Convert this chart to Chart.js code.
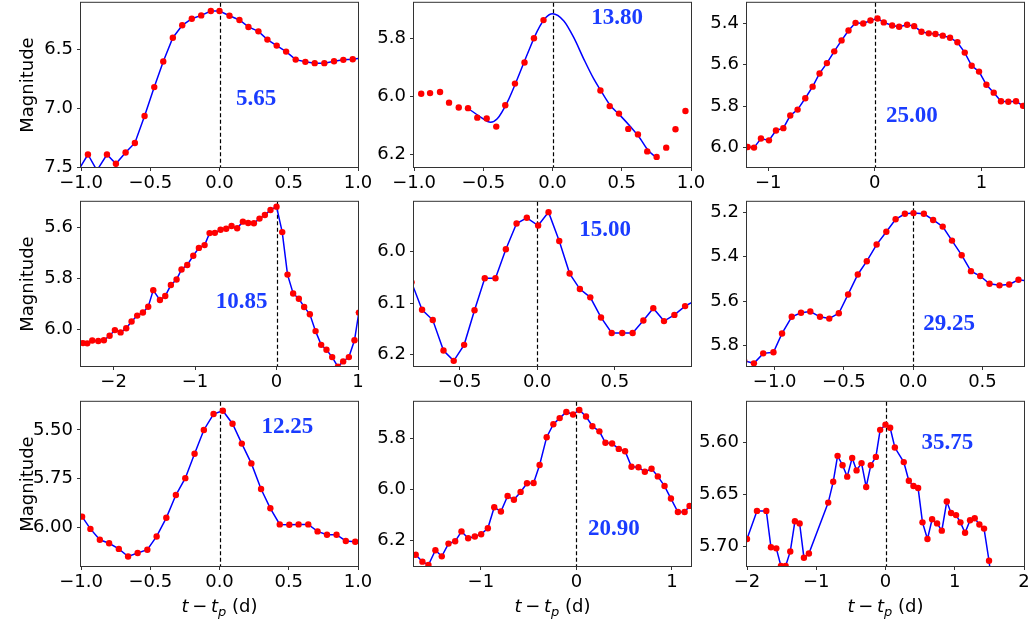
<!DOCTYPE html>
<html>
<head>
<meta charset="utf-8">
<script src="https://cdn.jsdelivr.net/npm/chart.js@4.4.0/dist/chart.umd.min.js"></script>
<style>
  html, body { margin: 0; padding: 0; background: #fff; }
  body { width: 1031px; height: 624px; position: relative; overflow: hidden; font-family: "DejaVu Sans", sans-serif; }
  canvas { position: absolute; }
  .ylab { position: absolute; font-size: 18px; line-height: 18px; color: #000; white-space: nowrap; transform: translate(-50%, -50%) rotate(-90deg); }
  .xlab { position: absolute; font-size: 18px; color: #000; white-space: nowrap; transform: translate(-50%, -50%); }
  .xlab i { font-style: italic; }
  .xlab sub { font-size: 13px; vertical-align: -4px; font-style: italic; }
</style>
</head>
<body>
<script>
// ---------------- data ----------------
const p1T = [-1.017, -0.950, -0.885, -0.8125, -0.748, -0.678, -0.611, -0.541, -0.471, -0.406, -0.337, -0.269, -0.200, -0.132, -0.0625, 0.0, 0.072, 0.144, 0.209, 0.281, 0.346, 0.413, 0.481, 0.550, 0.620, 0.6875, 0.757, 0.827, 0.894, 0.962, 1.03];
const p1M = [7.52, 7.390, 7.525, 7.390, 7.469, 7.373, 7.292, 7.063, 6.818, 6.601, 6.399, 6.294, 6.238, 6.210, 6.173, 6.173, 6.213, 6.249, 6.308, 6.345, 6.415, 6.466, 6.517, 6.585, 6.604, 6.615, 6.615, 6.599, 6.587, 6.582, 6.572];

const p2T = [-0.948, -0.884, -0.812, -0.747, -0.677, -0.610, -0.543, -0.475, -0.406, -0.341, -0.271, -0.202, -0.134, -0.065, 0.346, 0.413, 0.480, 0.547, 0.617, 0.684, 0.752, 0.821, 0.888, 0.960];
const p2M = [5.991, 5.989, 5.985, 6.022, 6.039, 6.041, 6.074, 6.077, 6.105, 6.031, 5.956, 5.883, 5.799, 5.736, 5.980, 6.034, 6.060, 6.113, 6.132, 6.191, 6.210, 6.178, 6.114, 6.051];
const p2FitT = [-0.603, -0.519, -0.447, -0.399, -0.327, -0.254, -0.182, -0.110, -0.050, 0.0, 0.082, 0.154, 0.226, 0.298, 0.346, 0.418, 0.490, 0.562, 0.634, 0.682, 0.730, 0.749];
const p2FitM = [6.044, 6.072, 6.090, 6.078, 6.021, 5.940, 5.854, 5.774, 5.728, 5.714, 5.739, 5.797, 5.871, 5.940, 5.978, 6.032, 6.067, 6.105, 6.147, 6.182, 6.205, 6.210];

const p3T = [-1.194, -1.134, -1.069, -0.994, -0.928, -0.859, -0.794, -0.725, -0.653, -0.584, -0.519, -0.450, -0.381, -0.3125, -0.247, -0.181, -0.109, -0.041, 0.025, 0.084, 0.1625, 0.228, 0.303, 0.369, 0.4375, 0.506, 0.569, 0.6375, 0.706, 0.775, 0.844, 0.909, 0.978, 1.047, 1.116, 1.184, 1.253, 1.325, 1.391];
const p3M = [5.998, 6.001, 5.957, 5.966, 5.918, 5.907, 5.846, 5.817, 5.762, 5.706, 5.642, 5.592, 5.535, 5.482, 5.434, 5.397, 5.400, 5.386, 5.376, 5.395, 5.410, 5.416, 5.406, 5.413, 5.440, 5.448, 5.451, 5.459, 5.469, 5.491, 5.541, 5.605, 5.633, 5.697, 5.735, 5.777, 5.779, 5.777, 5.799];

const p4T = [-2.44, -2.376, -2.323, -2.262, -2.188, -2.119, -2.049, -1.984, -1.914, -1.845, -1.779, -1.710, -1.640, -1.575, -1.513, -1.431, -1.366, -1.297, -1.227, -1.166, -1.096, -1.022, -0.953, -0.883, -0.822, -0.757, -0.687, -0.618, -0.552, -0.483, -0.413, -0.348, -0.278, -0.209, -0.143, -0.074, 0.0, 0.070, 0.135, 0.204, 0.274, 0.339, 0.409, 0.479, 0.548, 0.613, 0.683, 0.753, 0.818, 0.888, 0.957, 1.01];
const p4M = [6.053, 6.055, 6.056, 6.045, 6.047, 6.044, 6.026, 6.004, 6.013, 5.997, 5.970, 5.947, 5.935, 5.912, 5.847, 5.886, 5.870, 5.827, 5.805, 5.766, 5.748, 5.712, 5.681, 5.670, 5.623, 5.622, 5.610, 5.606, 5.595, 5.604, 5.578, 5.583, 5.584, 5.566, 5.552, 5.532, 5.519, 5.619, 5.786, 5.860, 5.881, 5.913, 5.942, 6.008, 6.062, 6.081, 6.110, 6.148, 6.127, 6.110, 6.044, 5.935];

const p5T = [-0.81, -0.742, -0.673, -0.604, -0.538, -0.471, -0.404, -0.338, -0.269, -0.202, -0.133, -0.067, 0.006, 0.073, 0.142, 0.209, 0.275, 0.342, 0.411, 0.480, 0.548, 0.615, 0.684, 0.748, 0.817, 0.884, 0.953, 1.019];
const p5M = [6.06, 6.113, 6.133, 6.192, 6.212, 6.181, 6.114, 6.052, 6.052, 5.996, 5.946, 5.935, 5.950, 5.924, 5.980, 6.043, 6.073, 6.089, 6.128, 6.158, 6.158, 6.158, 6.134, 6.110, 6.135, 6.123, 6.106, 6.095];

const p6T = [-1.22, -1.150, -1.083, -1.009, -0.947, -0.877, -0.810, -0.743, -0.673, -0.606, -0.537, -0.470, -0.400, -0.335, -0.264, -0.194, -0.127, -0.060, 0.002, 0.077, 0.144, 0.213, 0.280, 0.350, 0.417, 0.484, 0.551, 0.623, 0.693, 0.760, 0.829];
const p6M = [5.870, 5.881, 5.836, 5.831, 5.746, 5.671, 5.653, 5.647, 5.671, 5.679, 5.655, 5.570, 5.480, 5.420, 5.345, 5.287, 5.231, 5.206, 5.203, 5.206, 5.234, 5.264, 5.327, 5.393, 5.465, 5.487, 5.522, 5.529, 5.525, 5.504, 5.510];

const p7T = [-0.992, -0.932, -0.864, -0.797, -0.727, -0.660, -0.591, -0.521, -0.454, -0.384, -0.315, -0.247, -0.180, -0.113, -0.043, 0.024, 0.094, 0.161, 0.230, 0.300, 0.367, 0.435, 0.504, 0.571, 0.641, 0.708, 0.776, 0.845, 0.912, 0.980, 1.048];
const p7M = [5.946, 6.009, 6.065, 6.083, 6.112, 6.151, 6.133, 6.116, 6.048, 5.952, 5.835, 5.748, 5.622, 5.500, 5.418, 5.401, 5.468, 5.570, 5.672, 5.804, 5.903, 5.986, 5.988, 5.986, 5.986, 6.022, 6.039, 6.039, 6.071, 6.075, 6.080];

const p8T = [-1.682, -1.612, -1.549, -1.476, -1.409, -1.339, -1.269, -1.203, -1.133, -1.063, -0.997, -0.927, -0.860, -0.790, -0.720, -0.654, -0.584, -0.517, -0.448, -0.385, -0.311, -0.241, -0.175, -0.105, -0.035, 0.031, 0.101, 0.168, 0.241, 0.304, 0.374, 0.444, 0.510, 0.577, 0.650, 0.717, 0.787, 0.853, 0.923, 0.990, 1.063, 1.133, 1.185];
const p8M = [6.256, 6.283, 6.296, 6.238, 6.262, 6.212, 6.203, 6.164, 6.191, 6.184, 6.175, 6.152, 6.069, 6.086, 6.025, 6.040, 6.009, 5.975, 5.974, 5.903, 5.794, 5.743, 5.719, 5.695, 5.705, 5.687, 5.713, 5.751, 5.771, 5.816, 5.819, 5.840, 5.849, 5.910, 5.912, 5.930, 5.918, 5.948, 5.986, 6.035, 6.088, 6.088, 6.064];

const p9T = [-2.0, -1.856, -1.721, -1.654, -1.577, -1.510, -1.442, -1.375, -1.308, -1.240, -1.178, -1.106, -0.827, -0.755, -0.692, -0.620, -0.553, -0.481, -0.418, -0.346, -0.279, -0.212, -0.139, -0.077, 0.0, 0.067, 0.135, 0.264, 0.337, 0.404, 0.471, 0.534, 0.606, 0.673, 0.745, 0.813, 0.885, 0.947, 1.019, 1.082, 1.149, 1.221, 1.288, 1.356, 1.423, 1.495, 1.56];
const p9M = [5.693, 5.666, 5.666, 5.701, 5.702, 5.719, 5.719, 5.705, 5.676, 5.678, 5.711, 5.707, 5.658, 5.638, 5.613, 5.622, 5.633, 5.615, 5.627, 5.620, 5.643, 5.622, 5.614, 5.588, 5.583, 5.586, 5.605, 5.619, 5.637, 5.642, 5.644, 5.677, 5.693, 5.674, 5.678, 5.685, 5.657, 5.668, 5.670, 5.677, 5.687, 5.675, 5.673, 5.679, 5.683, 5.714, 5.75];

// panel labels (period values written on each panel)
const panelLabels = ['5.65', '13.80', '25.00', '10.85', '15.00', '29.25', '12.25', '20.90', '35.75'];

// tick values
const xTicks = [
  [-1, -0.5, 0, 0.5, 1], [-1, -0.5, 0, 0.5, 1], [-1, 0, 1],
  [-2, -1, 0, 1], [-0.5, 0, 0.5], [-1, -0.5, 0, 0.5],
  [-1, -0.5, 0, 0.5, 1], [-1, 0, 1], [-2, -1, 0, 1, 2]
];
const xTickDecimals = [1, 1, 0, 0, 1, 1, 1, 0, 0];
const yTicks = [
  [6.5, 7.0, 7.5], [5.8, 6.0, 6.2], [5.4, 5.6, 5.8, 6.0],
  [5.6, 5.8, 6.0], [6.0, 6.1, 6.2], [5.2, 5.4, 5.6, 5.8],
  [5.50, 5.75, 6.00], [5.8, 6.0, 6.2], [5.60, 5.65, 5.70]
];
const yTickDecimals = [1, 1, 1, 1, 1, 1, 2, 1, 2];
// axis ranges
const xRanges = [[-1, 1], [-1, 1], [-1.2, 1.4], [-2.4, 1.0], [-0.794, 0.991], [-1.2, 0.8], [-1, 1], [-1.7, 1.2], [-2, 2]];
const yRanges = [[6.103, 7.496], [5.676, 6.245], [5.30, 6.095], [5.50, 6.145], [5.904, 6.222], [5.152, 5.893], [5.355, 6.20], [5.655, 6.30], [5.561, 5.719]];

// ---------------- layout / style ----------------
const colLeft = [81, 414, 747];
const rowTop = [2, 201, 401];
const BOX_W = 277, BOX_H = 165;
const YW = 70, XH = 40, PAD_T = 14, PAD_R = 26;
const labelPos = [[0.632, 0.576], [0.733, 0.079], [0.595, 0.675], [0.580, 0.600], [0.690, 0.159], [0.730, 0.732], [0.745, 0.139], [0.722, 0.762], [0.723, 0.236]];

const series = [[p1T, p1M], [p2T, p2M], [p3T, p3M], [p4T, p4M], [p5T, p5M], [p6T, p6M], [p7T, p7M], [p8T, p8M], [p9T, p9M]];
const toXY = (T, M) => T.map((t, i) => ({ x: t, y: M[i] }));
const fmt = (v, d) => {
  let s = Number(v).toFixed(d);
  if (Math.abs(v) < 1e-9) s = (0).toFixed(d);
  return s.replace('-', '\u2212');
};

const deco = {
  id: 'deco',
  beforeDatasetsDraw(chart) {
    const { ctx, chartArea: a, scales: { x } } = chart;
    const px = Math.round(x.getPixelForValue(0)) + 0.5;
    ctx.save();
    ctx.strokeStyle = '#000';
    ctx.lineWidth = 1.2;
    ctx.setLineDash([4, 2.5]);
    ctx.beginPath();
    ctx.moveTo(px, a.top);
    ctx.lineTo(px, a.bottom);
    ctx.stroke();
    ctx.restore();
  },
  afterDraw(chart, args, opts) {
    const { ctx, chartArea: a } = chart;
    ctx.save();
    ctx.strokeStyle = '#333';
    ctx.lineWidth = 1;
    ctx.strokeRect(a.left - 0.5, a.top - 0.5, a.right - a.left + 1, a.bottom - a.top + 1);
    ctx.font = 'bold 23px "Liberation Serif"';
    ctx.fillStyle = '#1a3cff';
    ctx.textAlign = 'center';
    ctx.textBaseline = 'alphabetic';
    ctx.fillText(opts.label, a.left + opts.pos[0] * (a.right - a.left), a.top + opts.pos[1] * (a.bottom - a.top) + 8);
    ctx.restore();
  }
};

const tickFont = { family: 'DejaVu Sans', size: 18 };

for (let i = 0; i < 9; i++) {
  const r = Math.floor(i / 3), c = i % 3;
  const cv = document.createElement('canvas');
  const W = BOX_W + YW + PAD_R, H = BOX_H + XH + PAD_T;
  cv.width = W; cv.height = H;
  cv.style.left = (colLeft[c] - YW) + 'px';
  cv.style.top = (rowTop[r] - PAD_T) + 'px';
  cv.style.width = W + 'px'; cv.style.height = H + 'px';
  document.body.appendChild(cv);

  const datasets = [];
  const [T, M] = series[i];
  if (i === 1) {
    datasets.push({ data: toXY(T, M), showLine: false, pointRadius: 3.2, pointBackgroundColor: '#ff0000', pointBorderWidth: 0, pointHoverRadius: 0 });
    datasets.push({ data: toXY(p2FitT, p2FitM), borderColor: '#0000ff', borderWidth: 1.5, pointRadius: 0, cubicInterpolationMode: 'monotone', fill: false });
  } else {
    datasets.push({ data: toXY(T, M), borderColor: '#0000ff', borderWidth: 1.5, pointRadius: 3.2, pointBackgroundColor: '#ff0000', pointBorderWidth: 0, pointHoverRadius: 0, tension: 0, fill: false });
  }

  new Chart(cv, {
    type: 'line',
    data: { datasets },
    options: {
      responsive: false,
      maintainAspectRatio: false,
      devicePixelRatio: 1,
      animation: false,
      events: [],
      layout: { padding: { left: 0, top: PAD_T, right: PAD_R, bottom: 0 } },
      plugins: {
        legend: { display: false },
        tooltip: { enabled: false },
        deco: { label: panelLabels[i], pos: labelPos[i] }
      },
      scales: {
        x: {
          type: 'linear',
          min: xRanges[i][0], max: xRanges[i][1],
          afterBuildTicks: ax => { ax.ticks = xTicks[i].map(v => ({ value: v })); },
          afterFit: s => { s.height = XH; },
          ticks: { font: tickFont, color: '#000', padding: 2, maxRotation: 0, autoSkip: false, callback: v => fmt(v, xTickDecimals[i]) },
          grid: { display: true, drawOnChartArea: false, drawTicks: true, tickLength: 4, tickColor: '#333' },
          border: { display: false }
        },
        y: {
          type: 'linear',
          reverse: true,
          min: yRanges[i][0], max: yRanges[i][1],
          afterBuildTicks: ax => { ax.ticks = yTicks[i].map(v => ({ value: v })); },
          afterFit: s => { s.width = YW; },
          ticks: { font: tickFont, color: '#000', padding: 4, autoSkip: false, callback: v => fmt(v, yTickDecimals[i]) },
          grid: { display: true, drawOnChartArea: false, drawTicks: true, tickLength: 4, tickColor: '#333' },
          border: { display: false }
        }
      }
    },
    plugins: [deco]
  });
}

// axis titles (real text)
for (let r = 0; r < 3; r++) {
  const d = document.createElement('div');
  d.className = 'ylab';
  d.textContent = 'Magnitude';
  d.style.left = '27px';
  d.style.top = (rowTop[r] + BOX_H / 2) + 'px';
  document.body.appendChild(d);
}
for (let c = 0; c < 3; c++) {
  const d = document.createElement('div');
  d.className = 'xlab';
  d.innerHTML = '<i>t</i>\u2009\u2212\u2009<i>t</i><sub>p</sub> (d)';
  d.style.left = (colLeft[c] + BOX_W / 2) + 'px';
  d.style.top = '607px';
  document.body.appendChild(d);
}
</script>
</body>
</html>
